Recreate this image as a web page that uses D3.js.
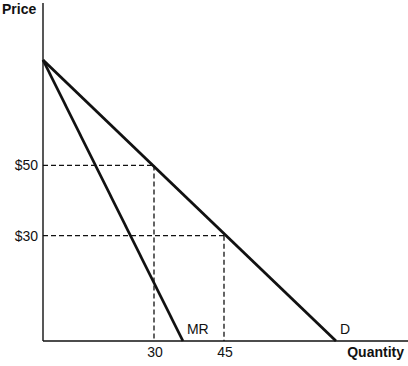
<!DOCTYPE html>
<html>
<head>
<meta charset="utf-8">
<script src="https://cdn.jsdelivr.net/npm/d3@7"></script>
<style>
  body { margin: 0; background: #fff; }
  text { font-family: "Liberation Sans", Arial, Helvetica, sans-serif; fill: #111; }
</style>
</head>
<body>
<script>
// demand and marginal revenue, as endpoints (quantity, price)
const demandQ = [0, 69];
const demandP = [80, 0];
const mrQ = [0, 36.2];
const mrP = [80, 0];

// the highlighted points on the demand curve
const pointQ = [30, 45];
const pointP = [50, 30];
const priceTicks = ["$50", "$30"];
const qtyTicks = ["30", "45"];

const width = 408, height = 366;
const margin = { top: 3, right: 0, bottom: 25, left: 43 };

const svg = d3.select("body").append("svg")
    .attr("width", width)
    .attr("height", height);

// schematic drawing, so the quantity axis is piecewise linear
const x = d3.scaleLinear()
    .domain([0, 30, 69])
    .range([margin.left, 154, 336]);

const y = d3.scaleLinear()
    .domain([0, 80])
    .range([height - margin.bottom, 60]);

const line = d3.line().x(d => x(d[0])).y(d => y(d[1]));

// dashed guides
pointQ.forEach((q, i) => {
  const p = pointP[i];
  svg.append("line")
      .attr("x1", x(0)).attr("x2", x(q))
      .attr("y1", y(p)).attr("y2", y(p))
      .attr("stroke", "#111").attr("stroke-width", 1.3)
      .attr("stroke-dasharray", "5,3");
  svg.append("line")
      .attr("x1", x(q)).attr("x2", x(q))
      .attr("y1", y(p)).attr("y2", y(0))
      .attr("stroke", "#111").attr("stroke-width", 1.3)
      .attr("stroke-dasharray", "5,3");
});

// axes
svg.append("line")
    .attr("x1", x(0)).attr("x2", x(0))
    .attr("y1", margin.top).attr("y2", y(0))
    .attr("stroke", "#111").attr("stroke-width", 1.4);
svg.append("line")
    .attr("x1", x(0)).attr("x2", width)
    .attr("y1", y(0)).attr("y2", y(0))
    .attr("stroke", "#111").attr("stroke-width", 1.4);

// curves
svg.append("path")
    .datum(d3.zip(demandQ, demandP))
    .attr("d", line)
    .attr("fill", "none").attr("stroke", "#111").attr("stroke-width", 2.8);
svg.append("path")
    .datum(d3.zip(mrQ, mrP))
    .attr("d", line)
    .attr("fill", "none").attr("stroke", "#111").attr("stroke-width", 2.8);

// tick labels
priceTicks.forEach((t, i) => {
  svg.append("text")
      .attr("x", x(0) - 5).attr("y", y(pointP[i]) + 5)
      .attr("text-anchor", "end")
      .attr("font-size", 14)
      .text(t);
});
qtyTicks.forEach((t, i) => {
  svg.append("text")
      .attr("x", x(pointQ[i]) + 1).attr("y", y(0) + 16)
      .attr("text-anchor", "middle")
      .attr("font-size", 14)
      .text(t);
});

// curve labels
svg.append("text")
    .attr("x", x(mrQ[1]) + 4).attr("y", y(0) - 7)
    .attr("font-size", 14)
    .text("MR");
svg.append("text")
    .attr("x", x(demandQ[1]) + 4).attr("y", y(0) - 7)
    .attr("font-size", 14)
    .text("D");

// axis titles
svg.append("text")
    .attr("x", 2).attr("y", 14)
    .attr("font-size", 14).attr("font-weight", "bold")
    .text("Price");
svg.append("text")
    .attr("x", width - 4).attr("y", y(0) + 16)
    .attr("text-anchor", "end")
    .attr("font-size", 14).attr("font-weight", "bold")
    .text("Quantity");
</script>
</body>
</html>
